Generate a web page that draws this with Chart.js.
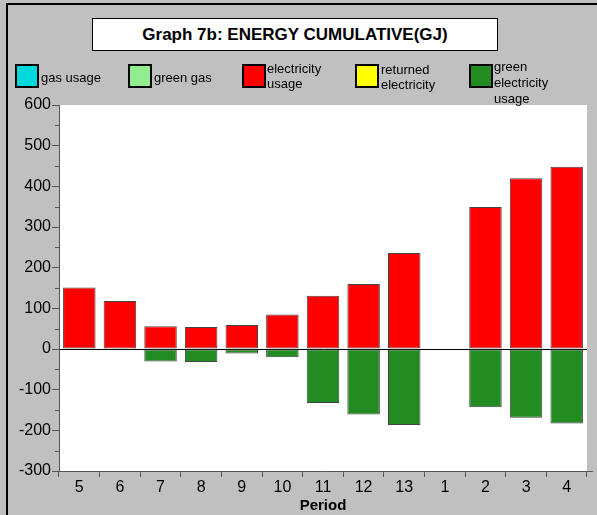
<!DOCTYPE html>
<html>
<head>
<meta charset="utf-8">
<script src="https://cdn.jsdelivr.net/npm/chart.js@4.4.0/dist/chart.umd.min.js"></script>
<style>
  html,body{margin:0;padding:0;}
  body{width:597px;height:515px;background:#c0c0c0;position:relative;overflow:hidden;font-family:"Liberation Sans",Arial,sans-serif;}
  #frameTop{position:absolute;left:6px;top:3px;width:591px;height:2px;background:#000;}
  #frameLeft{position:absolute;left:6px;top:3px;width:2px;height:512px;background:#000;}
  #titleBox{position:absolute;left:92px;top:18px;width:404px;height:31px;background:#fff;border:1px solid #000;
    font-weight:bold;font-size:17px;text-align:center;line-height:31px;color:#000;}
  .lbox{position:absolute;width:20px;height:20px;border:2px solid #000;top:64px;}
  .ltxt{position:absolute;font-size:13px;line-height:15px;color:#000;white-space:nowrap;}
  canvas{position:absolute;left:0;top:0;}
</style>
</head>
<body>
<canvas id="c" width="597" height="515"></canvas>
<div id="frameTop"></div>
<div id="frameLeft"></div>
<div id="titleBox">Graph 7b: ENERGY CUMULATIVE(GJ)</div>
<div id="legend"></div>
<script>
const categories = ["5","6","7","8","9","10","11","12","13","1","2","3","4"];
const gasUsage = [0,0,0,0,0,0,0,0,0,0,0,0,0];
const greenGas = [0,0,0,0,0,0,0,0,0,0,0,0,0];
const electricityUsage = [151,118,56,54,59,85,131,160,236,0,349,420,448];
const returnedElectricity = [0,0,0,0,0,0,0,0,0,0,0,0,0];
const greenElectricityUsage = [-1,-2,-31,-32,-11,-20,-133,-161,-187,0,-143,-169,-183];
const yTicks = [600,500,400,300,200,100,0,-100,-200,-300];

const seriesNames = ["gas usage","green gas","electricity\nusage","returned\nelectricity","green\nelectricity\nusage"];
const seriesColors = ["#00d8dc","#90ee90","#ff0000","#ffff00","#228b22"];
const seriesData = [gasUsage, greenGas, electricityUsage, returnedElectricity, greenElectricityUsage];

// HTML legend
const legendBoxX = [15,128,242,355,469];
const legendTextX = [41,154,267,381,494];
const legendTextTop = [[70],[70],[61],[62],[59]];
const legend = document.getElementById('legend');
seriesNames.forEach((n,i)=>{
  const b = document.createElement('div');
  b.className='lbox'; b.style.left=legendBoxX[i]+'px'; b.style.background=seriesColors[i];
  legend.appendChild(b);
  const lines = n.split('\n');
  lines.forEach((ln,j)=>{
    const t=document.createElement('div');
    t.className='ltxt'; t.textContent=ln;
    t.style.left=legendTextX[i]+'px';
    t.style.top=(legendTextTop[i][0]+j*(lines.length===3?16:15))+'px';
    legend.appendChild(t);
  });
});

const minorTicks = {
  id:'minorTicks',
  afterDraw(chart){
    const ctx=chart.ctx, y=chart.scales.y, ca=chart.chartArea;
    ctx.save();
    ctx.strokeStyle='#555'; ctx.lineWidth=1;
    for(let v=-250; v<600; v+=100){
      const py=Math.round(y.getPixelForValue(v))+0.5;
      ctx.beginPath(); ctx.moveTo(ca.left-4,py); ctx.lineTo(ca.left,py); ctx.stroke();
    }
    ctx.beginPath(); ctx.moveTo(ca.right, Math.round(ca.bottom)+0.5); ctx.lineTo(593, Math.round(ca.bottom)+0.5); ctx.stroke();
    ctx.restore();
  }
};
const whiteArea = {
  id:'whiteArea',
  beforeDraw(chart){
    const ctx=chart.ctx, ca=chart.chartArea;
    ctx.save(); ctx.fillStyle='#fff'; ctx.fillRect(ca.left,ca.top,ca.right-ca.left,ca.bottom-ca.top); ctx.restore();
  }
};

new Chart(document.getElementById('c'),{
  type:'bar',
  data:{
    labels:categories,
    datasets:seriesData.map((d,i)=>({
      label:seriesNames[i].replace(/\n/g,' '),
      data:d,
      backgroundColor:seriesColors[i],
      borderColor:'#444',
      borderWidth:1,
      borderSkipped:false,
      categoryPercentage:0.8,
      barPercentage:1.0
    }))
  },
  options:{
    responsive:false,
    animation:false,
    devicePixelRatio:1,
    layout:{padding:{left:0,right:10,top:105,bottom:0}},
    plugins:{legend:{display:false},title:{display:false},tooltip:{enabled:false}},
    scales:{
      x:{
        stacked:true,
        grid:{display:true,drawOnChartArea:false,tickLength:6,tickColor:'#555'},
        border:{display:true,color:'#555'},
        ticks:{color:'#000',font:{family:'"Liberation Sans", Arial',size:16},padding:1,maxRotation:0},
        title:{display:true,text:'Period',color:'#000',font:{family:'"Liberation Sans", Arial',size:15,weight:'bold'},padding:{top:-6,bottom:0}},
        afterFit(s){s.height=44;}
      },
      y:{
        stacked:true,
        min:-300,max:600,
        afterBuildTicks(s){s.ticks=yTicks.map(v=>({value:v}));},
        grid:{drawOnChartArea:true,tickLength:7,tickColor:'#555',
          color:(c)=>c.tick && c.tick.value===0 ? '#000' : 'rgba(0,0,0,0)',lineWidth:1},
        border:{display:true,color:'#555'},
        ticks:{color:'#000',font:{family:'"Liberation Sans", Arial',size:16},padding:1},
        afterFit(s){s.width=59;}
      }
    }
  },
  plugins:[whiteArea,minorTicks]
});
</script>
</body>
</html>
